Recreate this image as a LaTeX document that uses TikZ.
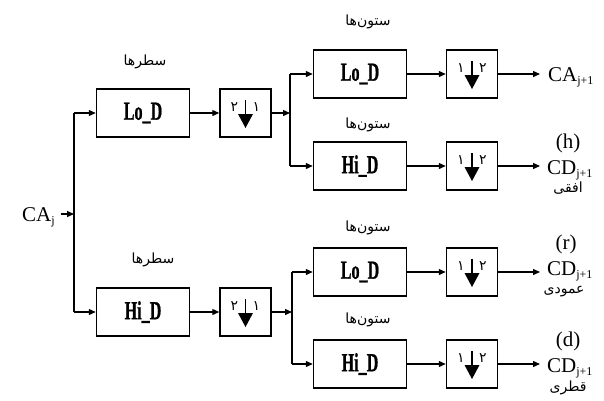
\documentclass[tikz,border=0pt]{standalone}
\usepackage{fontspec}
\setmainfont{Liberation Serif}
\newfontfamily\arabicfont[Script=Arabic]{DejaVu Sans}
\newfontfamily\boxfont[FakeBold=1.2]{Liberation Serif Bold}
\TeXXeTstate=1
\usetikzlibrary{arrows.meta}
\newcommand\downs[3]{%
  \begin{scope}[shift={(#1.center)}]
    \draw[line width=1.2pt] (0,-13) -- (0,2);
    \fill (-7.5,1) -- (7.5,1) -- (0,15) -- cycle;
    \node[dig] at (-11,-6) {#2};
    \node[dig] at (11,-6) {#3};
  \end{scope}}
\newcommand\fa[1]{\arabicfont\beginR #1\endR}
\newcommand\sbs[1]{\raisebox{-3pt}{\fontsize{12}{12}\selectfont #1}}
\newcommand\bt[1]{\scalebox{0.62}[1]{\boxfont #1}}
\begin{document}
\begin{tikzpicture}[x=1pt,y=-1pt,
  box/.style={draw,line width=1.5pt,minimum width=93pt,minimum height=48pt,inner sep=0pt,
    font=\fontsize{26}{26}\selectfont},
  dsbox/.style={draw,line width=1.5pt,minimum width=51pt,minimum height=48pt,inner sep=0pt},
  arr/.style={line width=1.3pt,-{Triangle[length=7pt,width=6pt]}},
  ln/.style={line width=1.5pt},
  fal/.style={font=\fontsize{14}{14}\selectfont,inner sep=0pt},
  dig/.style={font=\arabicfont\fontsize{14}{14}\selectfont,inner sep=0pt},
  lbl/.style={font=\fontsize{21}{21}\selectfont,inner sep=0pt},
]
\useasboundingbox (0,0) rectangle (604,400);

% input
\node[lbl,anchor=base west] (CAj) at (22,221) {CA\sbs{j}};
\coordinate (sp) at (74,214);
\coordinate (t1) at (74,113);
\coordinate (b1) at (74,312);
\draw[arr,shorten <=6pt] (CAj.east |- sp) -- (sp);
\draw[ln] (t1) -- (b1);

% first level
\node[box] (L1) at (143,113) {\bt{Lo\_D}};
\node[box] (H1) at (143,312) {\bt{Hi\_D}};
\node[dsbox] (D1) at (245.5,113) {};
\node[dsbox] (E1) at (245.5,312) {};
\downs{D1}{۲}{۱}
\downs{E1}{۲}{۱}
\node[fal] (r1) at (145,62) {\fa{سطرها}};
\node[fal] (r2) at (153,260) {\fa{سطرها}};
\draw[arr] (t1) -- (L1.west);
\draw[arr] (b1) -- (H1.west);
\draw[arr] (L1) -- (D1);
\draw[arr] (H1) -- (E1);

% brackets
\coordinate (j1) at (290,113);
\coordinate (j2) at (292,312);
\draw[arr] (D1) -- (j1);
\draw[arr] (E1) -- (j2);

% second level
\node[box] (L2) at (360,74) {\bt{Lo\_D}};
\node[box] (H2) at (360,166) {\bt{Hi\_D}};
\node[box] (L3) at (360,272) {\bt{Lo\_D}};
\node[box] (H3) at (360,364) {\bt{Hi\_D}};
\node[dsbox] (D2) at (472,74) {};
\node[dsbox] (D3) at (472,166) {};
\node[dsbox] (D4) at (472,272) {};
\node[dsbox] (D5) at (472,364) {};
\downs{D2}{۱}{۲}
\downs{D3}{۱}{۲}
\downs{D4}{۱}{۲}
\downs{D5}{۱}{۲}
\node[fal] (c1) at (368,22) {\fa{ستون‌ها}};
\node[fal] (c2) at (368,125) {\fa{ستون‌ها}};
\node[fal] (c3) at (368,228) {\fa{ستون‌ها}};
\node[fal] (c4) at (368,320) {\fa{ستون‌ها}};

\draw[ln] (j1 |- L2) -- (j1 |- H2);
\draw[ln] (j2 |- L3) -- (j2 |- H3);
\draw[arr] (j1 |- L2) -- (L2.west);
\draw[arr] (j1 |- H2) -- (H2.west);
\draw[arr] (j2 |- L3) -- (L3.west);
\draw[arr] (j2 |- H3) -- (H3.west);
\draw[arr] (L2) -- (D2);
\draw[arr] (H2) -- (D3);
\draw[arr] (L3) -- (D4);
\draw[arr] (H3) -- (D5);

% outputs
\coordinate (o1) at (540,74);
\coordinate (o2) at (540,166);
\coordinate (o3) at (540,272);
\coordinate (o4) at (540,364);
\draw[arr] (D2) -- (o1);
\draw[arr] (D3) -- (o2);
\draw[arr] (D4) -- (o3);
\draw[arr] (D5) -- (o4);

\node[lbl,anchor=base west] (y1) at (548,81) {CA\sbs{j+1}};
\node[lbl,anchor=base] (h) at (568,148) {(h)};
\node[lbl,anchor=base west] (y2) at (547,174) {CD\sbs{j+1}};
\node[fal] (p2) at (568,188) {\fa{افقی}};
\node[lbl,anchor=base] (r) at (566,249) {(r)};
\node[lbl,anchor=base west] (y3) at (547,275) {CD\sbs{j+1}};
\node[fal] (p3) at (564,292) {\fa{عمودی}};
\node[lbl,anchor=base] (d) at (568,346) {(d)};
\node[lbl,anchor=base west] (y4) at (547,372) {CD\sbs{j+1}};
\node[fal] (p4) at (568,388) {\fa{قطری}};
\end{tikzpicture}
\end{document}
